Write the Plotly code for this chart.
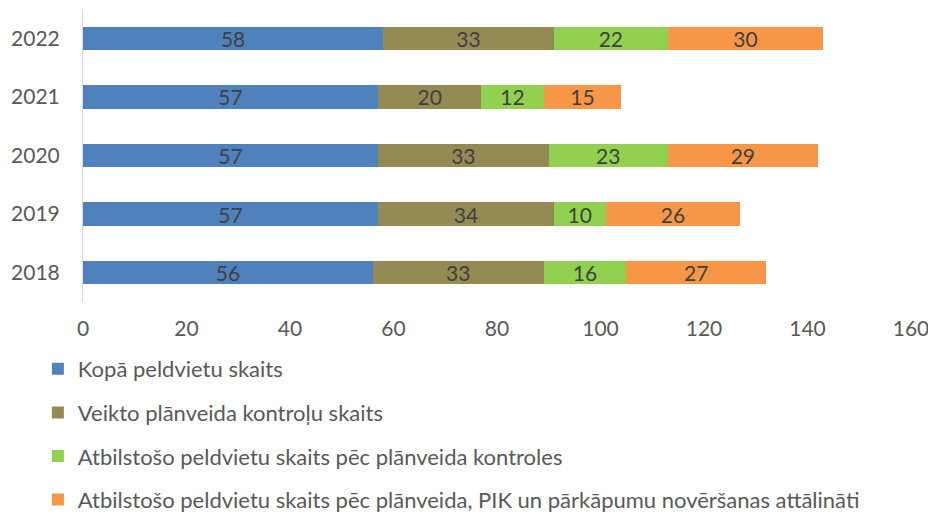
import plotly.graph_objects as go

years = ["2018", "2019", "2020", "2021", "2022"]
kopa = [56, 57, 57, 57, 58]
veikto = [33, 34, 33, 20, 33]
atbilstoso = [16, 10, 23, 12, 22]
attalinati = [27, 26, 29, 15, 30]

series_names = [
    "Kopā peldvietu skaits",
    "Veikto plānveida kontroļu skaits",
    "Atbilstošo peldvietu skaits pēc plānveida kontroles",
    "Atbilstošo peldvietu skaits pēc plānveida, PIK un pārkāpumu novēršanas attālināti",
]
series_values = [kopa, veikto, atbilstoso, attalinati]
colors = ["#4F81BD", "#948A54", "#92D050", "#F79646"]

FONT = "Lato, 'Noto Sans', sans-serif"

fig = go.Figure()
for i, (name, vals, col) in enumerate(zip(series_names, series_values, colors)):
    fig.add_trace(go.Bar(
        y=years, x=vals, name=name, orientation="h",
        marker=dict(color=col, line=dict(width=0)),
        text=vals, textposition="inside", insidetextanchor="middle",
        textangle=0, constraintext="none",
        textfont=dict(color="#404040", size=21, family=FONT),
        legendgroup=str(i),
    ))

fig.update_layout(
    barmode="stack",
    bargap=0.6,
    width=928, height=517,
    margin=dict(l=83, r=17, t=9, b=215, autoexpand=False),
    plot_bgcolor="white", paper_bgcolor="white",
    font=dict(family=FONT, color="#595959", size=21),
    showlegend=True,
    legend=dict(
        x=-0.0545, y=-0.157, xanchor="left", yanchor="top",
        traceorder="grouped", tracegroupgap=12,
        font=dict(size=22, color="#595959"),
        itemwidth=30,
    ),
)
fig.update_xaxes(range=[0, 160], dtick=20, showgrid=False, zeroline=False,
                 showline=False, ticks="", ticklabelstandoff=12,
                 ticklabeloverflow="allow")
fig.update_yaxes(showline=True, linecolor="#D9D9D9", linewidth=1,
                 showgrid=False, ticks="", ticklabelstandoff=18)

# drop the default 8px body margin so the chart sits at the page corner
fig.write_html("out.html", config={"displayModeBar": False},
               post_script="document.body.style.margin='0';")
